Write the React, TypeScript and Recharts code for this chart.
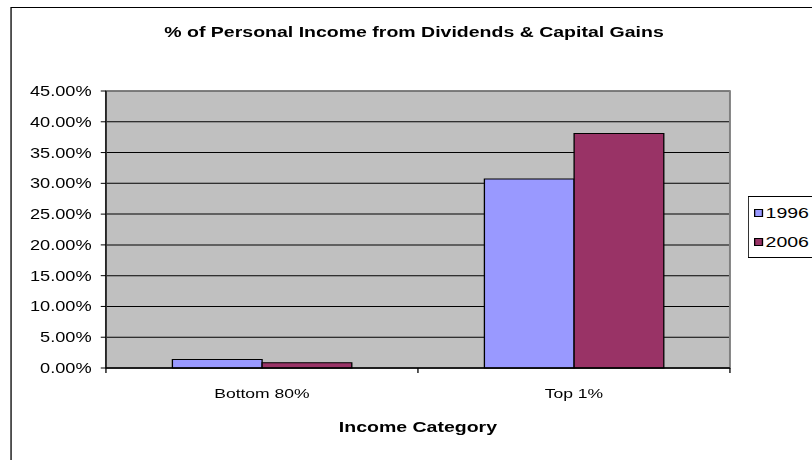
import React from 'react'
import {
  BarChart,
  Bar,
  XAxis,
  YAxis,
  CartesianGrid,
  Legend,
  ReferenceArea,
} from 'recharts'

// values (percent)
const categories = ['Bottom 80%', 'Top 1%']
const values1996 = [1.4, 30.7]
const values2006 = [0.85, 38.1]
const yTicks = [0, 5, 10, 15, 20, 25, 30, 35, 40, 45]
const seriesNames = ['1996', '2006']
const seriesColors = ['#9999FF', '#993366']

const data = categories.map((c, i) => ({
  category: c,
  y1996: values1996[i],
  y2006: values2006[i],
}))

// the source picture is an Excel chart stretched sideways, so we draw it narrow and scale it
const STRETCH = 1.3
const W = 625
const H = 460
const FONT = '"Liberation Sans", Arial, sans-serif'

function CategoryTick(props: any) {
  const { x, y, payload, index, visibleTicksCount } = props
  const off = payload?.offset ?? 0
  const isLast =
    visibleTicksCount != null
      ? index === visibleTicksCount - 1
      : payload.value === categories[categories.length - 1]
  return (
    <g>
      <line x1={x - off} x2={x - off} y1={y} y2={y + 5} stroke="#000" />
      {isLast && <line x1={x + off} x2={x + off} y1={y} y2={y + 5} stroke="#000" />}
      <text x={x} y={y + 30} textAnchor="middle" fontSize={13.5} fill="#000" fontFamily={FONT}>
        {payload.value}
      </text>
    </g>
  )
}

function LegendBox({ payload }: any) {
  const items = payload && payload.length ? payload : seriesNames.map((n, i) => ({ value: n, color: seriesColors[i] }))
  return (
    <div
      style={{
        border: '1px solid #000',
        background: '#fff',
        width: 80,
        padding: '1px 0 1px 4px',
        fontFamily: FONT,
        fontSize: 15,
        color: '#000',
      }}
    >
      {items.map((it: any) => (
        <div key={it.value} style={{ height: 29, lineHeight: '29px', display: 'flex', alignItems: 'center' }}>
          <span
            style={{
              display: 'inline-block',
              width: 5,
              height: 6,
              background: it.color,
              border: '1px solid #000',
              marginRight: 1.5,
            }}
          />
          <span>{it.value}</span>
        </div>
      ))}
    </div>
  )
}

export default function App() {
  return (
    <div
      style={{
        position: 'fixed',
        left: 0,
        top: 0,
        width: 812,
        height: 460,
        overflow: 'hidden',
        background: '#fff',
      }}
    >
      <div
        style={{
          position: 'absolute',
          left: 0,
          top: 0,
          width: W,
          height: H,
          transform: `scaleX(${STRETCH})`,
          transformOrigin: '0 0',
          fontFamily: FONT,
        }}
      >
        <div
          style={{
            position: 'absolute',
            left: 7.7,
            top: 6.5,
            width: 800,
            height: 600,
            border: '1.5px solid #000',
          }}
        />
        <div
          style={{
            position: 'absolute',
            left: 0,
            top: 23,
            width: 637,
            textAlign: 'center',
            fontSize: 15,
            fontWeight: 'bold',
            lineHeight: '18px',
          }}
        >
          % of Personal Income from Dividends &amp; Capital Gains
        </div>
        <div
          style={{
            position: 'absolute',
            left: 81.5,
            top: 418,
            width: 480,
            textAlign: 'center',
            fontSize: 15,
            fontWeight: 'bold',
            lineHeight: '18px',
          }}
        >
          Income Category
        </div>
        <div style={{ position: 'absolute', left: 0, top: 0 }}>
          <BarChart
            width={W}
            height={H}
            data={data}
            margin={{ top: 91, right: 63.5, bottom: 32, left: 10 }}
            barCategoryGap="21.3%"
            barGap={0}
          >
            <CartesianGrid vertical={false} stroke="#000" fill="#C0C0C0" fillOpacity={1} />
            <ReferenceArea y1={0} y2={45} fill="none" stroke="#808080" strokeWidth={1.5} ifOverflow="visible" />
            <XAxis
              dataKey="category"
              height={60}
              tickSize={0}
              tickMargin={0}
              tickLine={false}
              axisLine={{ stroke: '#000', strokeWidth: 1.5 }}
              tick={<CategoryTick />}
              interval={0}
            />
            <YAxis
              width={71.5}
              domain={[0, 45]}
              ticks={yTicks}
              interval={0}
              tickSize={4}
              tickMargin={7}
              tickLine={{ stroke: '#000' }}
              axisLine={{ stroke: '#000' }}
              tickFormatter={(v: number) => v.toFixed(2) + '%'}
              tick={{ fontSize: 14, fill: '#000', fontFamily: FONT }}
            />
            <Legend
              layout="vertical"
              align="center"
              verticalAlign="middle"
              content={<LegendBox />}
              wrapperStyle={{ position: 'absolute', left: 575.4, top: 196, width: 90, margin: 0 }}
            />
            <Bar
              dataKey="y1996"
              name={seriesNames[0]}
              fill={seriesColors[0]}
              stroke="#000"
              strokeWidth={1}
              isAnimationActive={false}
            />
            <Bar
              dataKey="y2006"
              name={seriesNames[1]}
              fill={seriesColors[1]}
              stroke="#000"
              strokeWidth={1}
              isAnimationActive={false}
            />
          </BarChart>
        </div>
      </div>
    </div>
  )
}
